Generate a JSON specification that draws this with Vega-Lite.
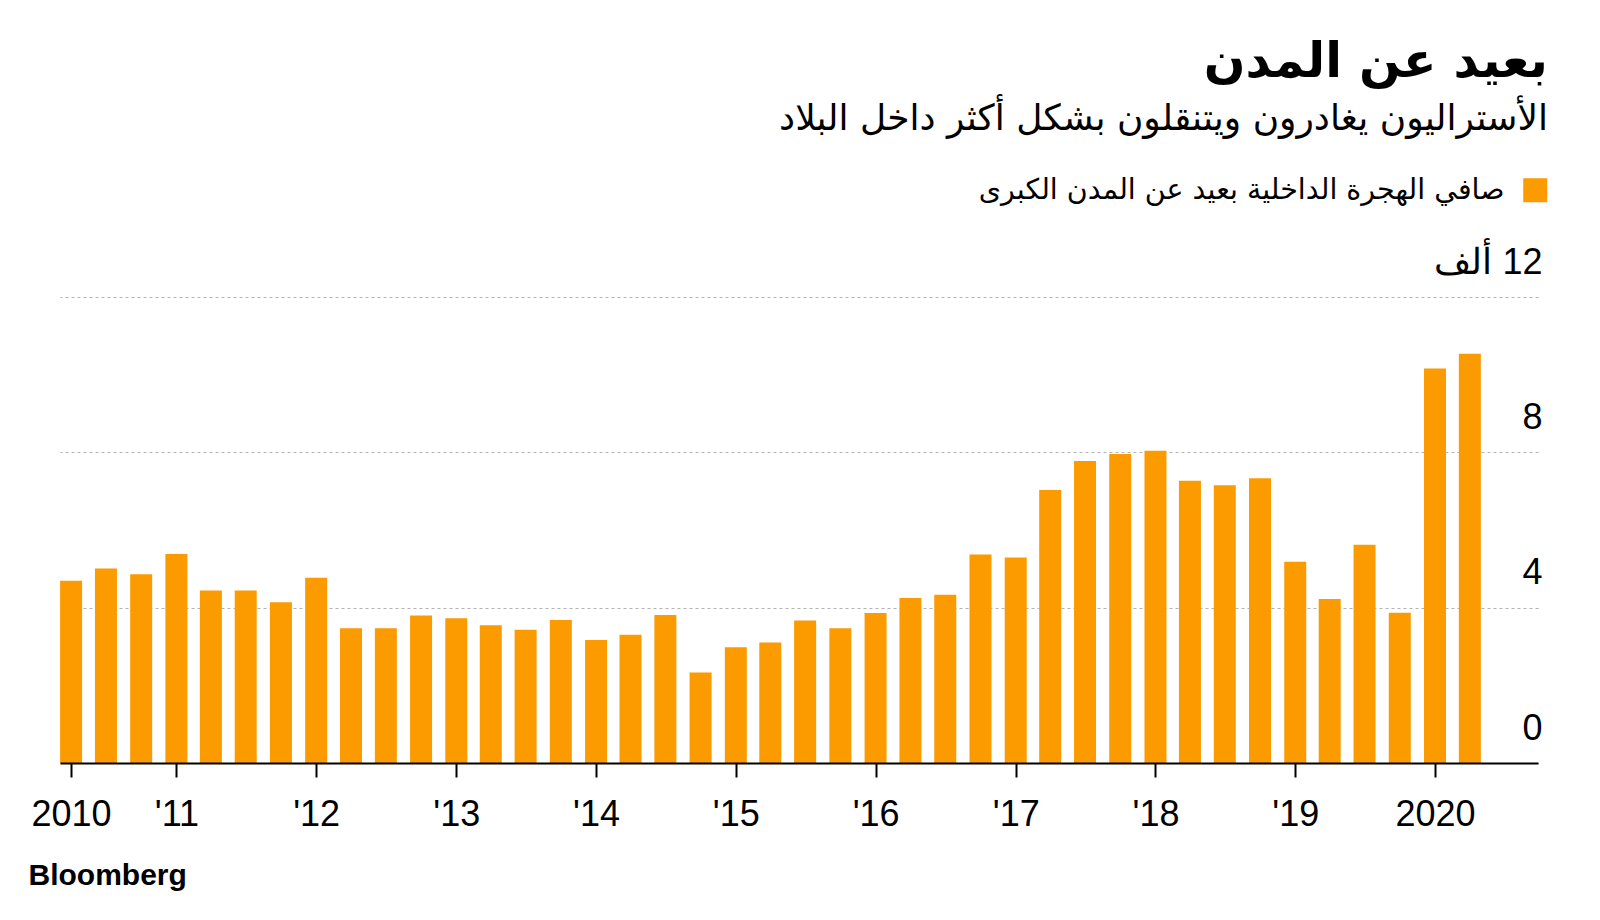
{
  "$schema": "https://vega.github.io/schema/vega-lite/v6.json",
  "width": 1478,
  "height": 466,
  "autosize": {"type": "none"},
  "padding": {"left": 60, "top": 297, "right": 62, "bottom": 157},
  "background": "white",
  "config": {"view": {"stroke": null}},
  "title": {
    "text": "بعيد عن المدن",
    "subtitle": "الأستراليون يغادرون ويتنقلون بشكل أكثر داخل البلاد",
    "anchor": "end",
    "frame": "group",
    "orient": "top",
    "font": "DejaVu Sans",
    "fontSize": 49,
    "fontWeight": "bold",
    "color": "#000000",
    "subtitleFont": "DejaVu Sans",
    "subtitleFontSize": 36,
    "subtitleColor": "#000000",
    "subtitlePadding": 15,
    "offset": 39,
    "dx": 10
  },
  "data": {
    "values": [
      {"date": "2010-04-01", "value": 4.69},
      {"date": "2010-07-01", "value": 5.01},
      {"date": "2010-10-01", "value": 4.86},
      {"date": "2011-01-01", "value": 5.38},
      {"date": "2011-04-01", "value": 4.44},
      {"date": "2011-07-01", "value": 4.44},
      {"date": "2011-10-01", "value": 4.14},
      {"date": "2012-01-01", "value": 4.77},
      {"date": "2012-04-01", "value": 3.47},
      {"date": "2012-07-01", "value": 3.47},
      {"date": "2012-10-01", "value": 3.80},
      {"date": "2013-01-01", "value": 3.73},
      {"date": "2013-04-01", "value": 3.55},
      {"date": "2013-07-01", "value": 3.43},
      {"date": "2013-10-01", "value": 3.68},
      {"date": "2014-01-01", "value": 3.17},
      {"date": "2014-04-01", "value": 3.30},
      {"date": "2014-07-01", "value": 3.81},
      {"date": "2014-10-01", "value": 2.33},
      {"date": "2015-01-01", "value": 2.98},
      {"date": "2015-04-01", "value": 3.10},
      {"date": "2015-07-01", "value": 3.67},
      {"date": "2015-10-01", "value": 3.47},
      {"date": "2016-01-01", "value": 3.86},
      {"date": "2016-04-01", "value": 4.25},
      {"date": "2016-07-01", "value": 4.33},
      {"date": "2016-10-01", "value": 5.37},
      {"date": "2017-01-01", "value": 5.29},
      {"date": "2017-04-01", "value": 7.03},
      {"date": "2017-07-01", "value": 7.78},
      {"date": "2017-10-01", "value": 7.96},
      {"date": "2018-01-01", "value": 8.04},
      {"date": "2018-04-01", "value": 7.27},
      {"date": "2018-07-01", "value": 7.15},
      {"date": "2018-10-01", "value": 7.33},
      {"date": "2019-01-01", "value": 5.18},
      {"date": "2019-04-01", "value": 4.22},
      {"date": "2019-07-01", "value": 5.62},
      {"date": "2019-10-01", "value": 3.87},
      {"date": "2020-01-01", "value": 10.16},
      {"date": "2020-04-01", "value": 10.54}
    ]
  },
  "mark": {"type": "bar", "size": 22},
  "encoding": {
    "x": {
      "field": "date",
      "type": "temporal",
      "scale": {
        "type": "utc",
        "padding": 0,
        "domain": [
          {"year": 2010, "month": 3, "date": 3, "utc": true},
          {"year": 2020, "month": 9, "date": 26, "utc": true}
        ]
      },
      "axis": {
        "values": [
          {"year": 2010, "month": 4, "date": 1, "utc": true},
          {"year": 2011, "month": 1, "date": 1, "utc": true},
          {"year": 2012, "month": 1, "date": 1, "utc": true},
          {"year": 2013, "month": 1, "date": 1, "utc": true},
          {"year": 2014, "month": 1, "date": 1, "utc": true},
          {"year": 2015, "month": 1, "date": 1, "utc": true},
          {"year": 2016, "month": 1, "date": 1, "utc": true},
          {"year": 2017, "month": 1, "date": 1, "utc": true},
          {"year": 2018, "month": 1, "date": 1, "utc": true},
          {"year": 2019, "month": 1, "date": 1, "utc": true},
          {"year": 2020, "month": 1, "date": 1, "utc": true}
        ],
        "labelExpr": "(utcyear(datum.value) == 2010 || utcyear(datum.value) == 2020) ? toString(utcyear(datum.value)) : \"'\" + substring(toString(utcyear(datum.value)), 2)",
        "labelFont": "Liberation Sans",
        "labelFontSize": 36,
        "labelColor": "#000000",
        "labelFlush": false,
        "labelOverlap": false,
        "labelPadding": 20,
        "labelBaseline": "top",
        "tickSize": 14,
        "tickWidth": 2,
        "tickColor": "#000000",
        "domainColor": "#000000",
        "domainWidth": 2,
        "grid": false,
        "zindex": 1,
        "title": "Bloomberg",
        "titleFont": "Liberation Sans",
        "titleFontWeight": "bold",
        "titleFontSize": 30,
        "titleColor": "#000000",
        "titleAnchor": "start",
        "titleAlign": "left",
        "titleBaseline": "alphabetic",
        "titleX": -32,
        "titleY": 121
      }
    },
    "y": {
      "field": "value",
      "type": "quantitative",
      "scale": {"domain": [0, 12], "nice": false},
      "axis": {
        "orient": "right",
        "values": [0, 4, 8, 12],
        "labelExpr": "datum.value == 12 ? 'ألف\u200e 12' : datum.label",
        "labelFont": "Liberation Sans",
        "labelFontSize": 36,
        "labelColor": "#000000",
        "labelAlign": "right",
        "labelBaseline": "alphabetic",
        "labelOffset": -24,
        "labelPadding": 4,
        "ticks": false,
        "tickSize": 0,
        "domain": false,
        "grid": true,
        "gridDash": [3, 3],
        "gridColor": "#b3b3b3",
        "gridWidth": 1,
        "title": null
      }
    },
    "color": {
      "datum": "صافي الهجرة الداخلية بعيد عن المدن الكبرى",
      "scale": {"range": ["#FB9B00"]},
      "legend": {
        "title": null,
        "orient": "none",
        "legendX": 1461,
        "legendY": -121,
        "padding": 0,
        "symbolType": "square",
        "symbolSize": 576,
        "symbolStrokeWidth": 0,
        "symbolOpacity": 1,
        "labelFont": "DejaVu Sans",
        "labelFontSize": 28.5,
        "labelColor": "#000000",
        "labelAlign": "right",
        "labelOffset": -45,
        "labelLimit": 0
      }
    }
  }
}
